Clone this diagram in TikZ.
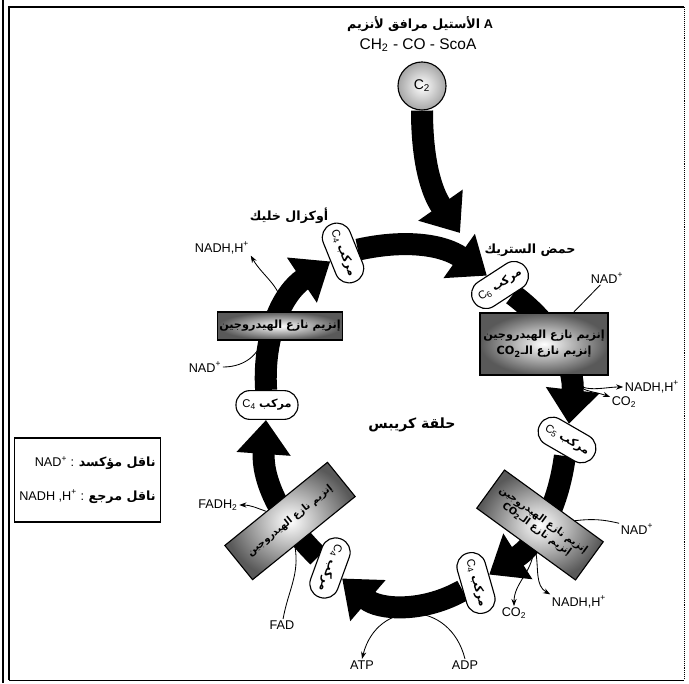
\documentclass[tikz,border=0pt]{standalone}
\usepackage{fontspec}
\setmainfont{Liberation Sans}
\newfontfamily\arabicfont[Script=Arabic]{DejaVu Sans}
\TeXXeTstate=1
\usetikzlibrary{arrows.meta}
\pgfdeclarelayer{background}
\pgfsetlayers{background,main}
\newcommand{\artxt}[1]{{\arabicfont\bfseries\beginR #1\endR}}
\tikzset{
  ring/.style={line width=0.55cm, -{Triangle[width=1.3cm,length=0.85cm]}},
  comp/.style={draw, thick, fill=white, rounded corners=0.35cm, minimum width=1.55cm,
    minimum height=0.72cm, inner sep=1pt, font=\footnotesize},
  enz/.style={draw, thick, inner color=white, outer color=gray!70!black, align=center,
    inner sep=1pt, font=\footnotesize},
  side/.style={-{Stealth[length=1.8mm,width=1.3mm]}, semithick},
  lab/.style={font=\small, inner sep=1pt}
}
\begin{document}
\begin{tikzpicture}[x=0.025cm,y=0.025cm]
\useasboundingbox (0,0) rectangle (689,683);
\draw[line width=1pt] (9,3) -- (9,676) -- (684,676);
\draw[densely dotted] (684,676) -- (684,3);
\draw (9,3) -- (684,3);
\draw[line width=1pt] (3,0) -- (3,683);

\node[lab] (title) at (420,659) {\artxt{الأستيل مرافق لأنزيم} \textbf{A}};
\node[font=\fontsize{11}{13}\selectfont] (acoa) at (418,638) {CH\textsubscript{2} - CO - ScoA};
\node[circle, draw, thick, minimum size=1.2cm, inner color=white, outer color=gray!70] (c2) at (422,597) {C\textsubscript{2}};
\coordinate (cin) at (460,450);

\node[lab] (cit) at (530,433) {\artxt{حمض الستريك}};
\node[comp, rotate=33] (c6) at (500,398) {C\textsubscript{6} \artxt{مركب}};
\node[enz, minimum width=3.2cm, minimum height=1.55cm] (enzA) at (544,339)
  {\artxt{إنزيم نازع الهيدروجين}\\[2pt]\artxt{إنزيم نازع الـ\beginL CO\textsubscript{2}\endL}};
\node[lab] (nadA) at (607,405) {NAD\textsuperscript{+}};
\node[lab] (nadhA) at (652,296) {NADH,H\textsuperscript{+}};
\node[lab] (co2A) at (624,281) {CO\textsubscript{2}};
\node[comp, rotate=-30] (c5) at (567,243) {C\textsubscript{5} \artxt{مركب}};

\node[enz, rotate=-36, minimum width=3.05cm, minimum height=1.18cm, font=\scriptsize] (enzB) at (540,158)
  {\artxt{إنزيم نازع الهيدروجين}\\\artxt{إنزيم نازع الـ\beginL CO\textsubscript{2}\endL}};
\node[lab] (nadB) at (637,154) {NAD\textsuperscript{+}};
\node[lab] (co2B) at (514,70) {CO\textsubscript{2}};
\node[lab] (nadhB) at (579,81) {NADH,H\textsuperscript{+}};
\node[comp, rotate=-74] (c4b) at (476,100) {C\textsubscript{4} \artxt{مركب}};

\node[lab] (atp) at (362,18) {ATP};
\node[lab] (adp) at (465,18) {ADP};

\node[comp, rotate=-110] (c4c) at (330,115) {C\textsubscript{4} \artxt{مركب}};
\node[enz, rotate=39, minimum width=3.3cm, minimum height=1.1cm, font=\scriptsize] (enzC) at (290,162)
  {\artxt{إنزيم نازع الهيدروجين}};
\node[lab] (fadh) at (218,178) {FADH\textsubscript{2}};
\node[lab] (fad) at (282,58) {FAD};

\node[comp] (c4d) at (267,278) {C\textsubscript{4} \artxt{مركب}};
\node[enz, minimum width=3cm, minimum height=0.7cm] (enzD) at (280,357)
  {\artxt{إنزيم نازع الهيدروجين}};
\node[lab] (nadD) at (205,316) {NAD\textsuperscript{+}};
\node[lab] (nadhD) at (222,435) {NADH,H\textsuperscript{+}};

\node[comp, rotate=-68] (c4a) at (343,430) {C\textsubscript{4} \artxt{مركب}};
\node[lab] (oxa) at (289,467) {\artxt{أوكزال خليك}};

\node[font=\normalsize] (krebs) at (412,258) {\artxt{حلقة كريبس}};

\node[draw, thick, minimum width=3.48cm, minimum height=2.1cm, align=right, font=\small]
  (key) at (87.5,203)
  {NAD\textsuperscript{+} : \artxt{ناقل مؤكسد}\\[0.45cm]NADH ,H\textsuperscript{+} : \artxt{ناقل مرجع}};

\begin{pgfonlayer}{background}
\draw[ring] (c2.south) to[out=-90,in=125] (cin);
\draw[ring] (c4a) to[bend left=24] (c6);
\draw[ring] (c6) to[bend left=30] (c5);
\draw[ring] (c5) to[bend left=25] (c4b);
\draw[ring] (c4b) to[bend left=35] (c4c);
\draw[ring] (c4c) to[bend left=25] (c4d);
\draw[ring] (c4d) to[bend left=30] (c4a);
\end{pgfonlayer}

\draw[semithick] (nadA) -- (enzA.47);
\draw[side] (enzA.-47) to[out=-80,in=180] (nadhA);
\draw[side] (enzA.-50) to[out=-70,in=160] (co2A);
\draw[semithick] (nadB) to[bend right=10] (enzB.43);
\draw[side] (enzB.292) to[out=-95,in=90] (co2B);
\draw[side] (enzB.297) to[out=-80,in=150] (nadhB.north west);
\draw[side] (adp.north) .. controls +(-15,60) and +(15,60) .. (atp.north);
\draw[side] (enzC.119) to[out=160,in=0] (fadh);
\draw[semithick] (fad) to[out=80,in=-80] (enzC.242);
\draw[semithick] (nadD) to[out=0,in=-110] (enzD.220);
\draw[side] (enzD.80) to[out=90,in=-60] (nadhD.south east);
\end{tikzpicture}
\end{document}
